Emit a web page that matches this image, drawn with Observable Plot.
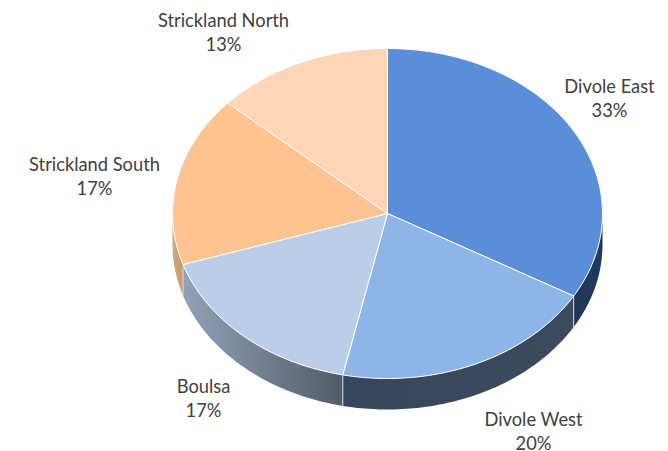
<!DOCTYPE html>
<html>
<head>
<meta charset="utf-8">
<style>html,body{margin:0;padding:0;background:#fff}svg{display:block}</style>
<script src="https://cdn.jsdelivr.net/npm/d3@7"></script>
<script src="https://cdn.jsdelivr.net/npm/@observablehq/plot@0.6"></script>
</head>
<body>
<script>
const categories = ["Divole East", "Divole West", "Boulsa", "Strickland South", "Strickland North"];
const counts = [10, 6, 5, 5, 4];
const topColors = ["#5a8ed8", "#8eb5e8", "#bacee9", "#ffc392", "#ffd5b8"];

// Layout (not data)
const W = 668, H = 451;
const cx = 387, cy = 213, rx = 215, ry = 165, depth = 31;
const labelCenters = [[609, 96.5], [533, 429.5], [203, 396.5], [94, 175], [223, 30.5]];
const sideFills = ["url(#sideEast)", "url(#sideWest)", "url(#sideBoulsa)", "url(#sideSouth)", null];

const rim = (deg, dy = 0) => {
  const a = deg * Math.PI / 180;
  return {x: cx + rx * Math.sin(a), y: cy + dy - ry * Math.cos(a)};
};
const arc = (a0, a1, dy = 0) => {
  const n = Math.max(2, Math.ceil(Math.abs(a1 - a0)));
  return d3.range(n + 1).map(i => rim(a0 + (a1 - a0) * i / n, dy));
};

const total = d3.sum(counts);
let cum = 0;
const slices = categories.map((name, i) => {
  const a0 = cum / total * 360; cum += counts[i];
  return {name, share: Math.round(counts[i] / total * 100), a0, a1: cum / total * 360,
          color: topColors[i], side: sideFills[i], lx: labelCenters[i][0], ly: labelCenters[i][1]};
});

const topRows = slices.flatMap(s => {
  const c = {x: cx, y: cy};
  return [c, ...arc(s.a0, s.a1), c].map(p => ({...p, name: s.name, color: s.color}));
});

const visible = slices.filter(s => s.side && s.a1 > 90 && s.a0 < 270).map(s => ({...s, v0: Math.max(s.a0, 90), v1: Math.min(s.a1, 270)}));
const sideRows = visible.flatMap(s =>
  [...arc(s.v0, s.v1), ...arc(s.v1, s.v0, depth)].map(p => ({...p, name: s.name, color: s.side})));
const edgeRows = visible.filter(s => s.a0 > 90 && s.a0 < 270).flatMap(s =>
  [rim(s.a0), rim(s.a0, depth)].map(p => ({...p, name: s.name})));

const gradient = (defs, id, x1, x2, stops) => {
  const g = defs.append("linearGradient").attr("id", id)
    .attr("gradientUnits", "userSpaceOnUse").attr("x1", x1).attr("x2", x2).attr("y1", 0).attr("y2", 0);
  stops.forEach(([o, c]) => g.append("stop").attr("offset", o).attr("stop-color", c));
};
const gradients = () => {
  const svg = d3.create("svg:g");
  const defs = svg.append("defs");
  gradient(defs, "sideEast", 574, 603, [[0, "#203657"], [1, "#1f3a60"]]);
  gradient(defs, "sideWest", 343, 574, [[0, "#36475d"], [1, "#3c4a5c"]]);
  gradient(defs, "sideBoulsa", 183, 343, [[0, "#90a2b8"], [1, "#535b68"]]);
  gradient(defs, "sideSouth", 172, 183, [[0, "#cfa67e"], [1, "#c79a6e"]]);
  return svg.node();
};

const chart = Plot.plot({
  width: W, height: H,
  margin: 0,
  x: {domain: [0, W], range: [0, W], axis: null},
  y: {domain: [0, H], range: [0, H], axis: null},
  style: {background: "#fff"},
  marks: [
    gradients,
    Plot.line(sideRows, {x: "x", y: "y", z: "name", fill: "color", stroke: null}),
    Plot.line(edgeRows, {x: "x", y: "y", z: "name", stroke: "#d5dbe3", strokeWidth: 1}),
    Plot.line(topRows, {x: "x", y: "y", z: "name", fill: "color", stroke: "#ffffff", strokeWidth: 1, strokeLinejoin: "round"}),
    Plot.text(slices, {
      x: "lx", y: "ly",
      text: d => `${d.name}\n${d.share}%`,
      fontFamily: "Lato", fontSize: 18.3, lineHeight: 1.32, fill: "#404040"
    })
  ]
});
document.body.append(chart);
</script>
</body>
</html>
